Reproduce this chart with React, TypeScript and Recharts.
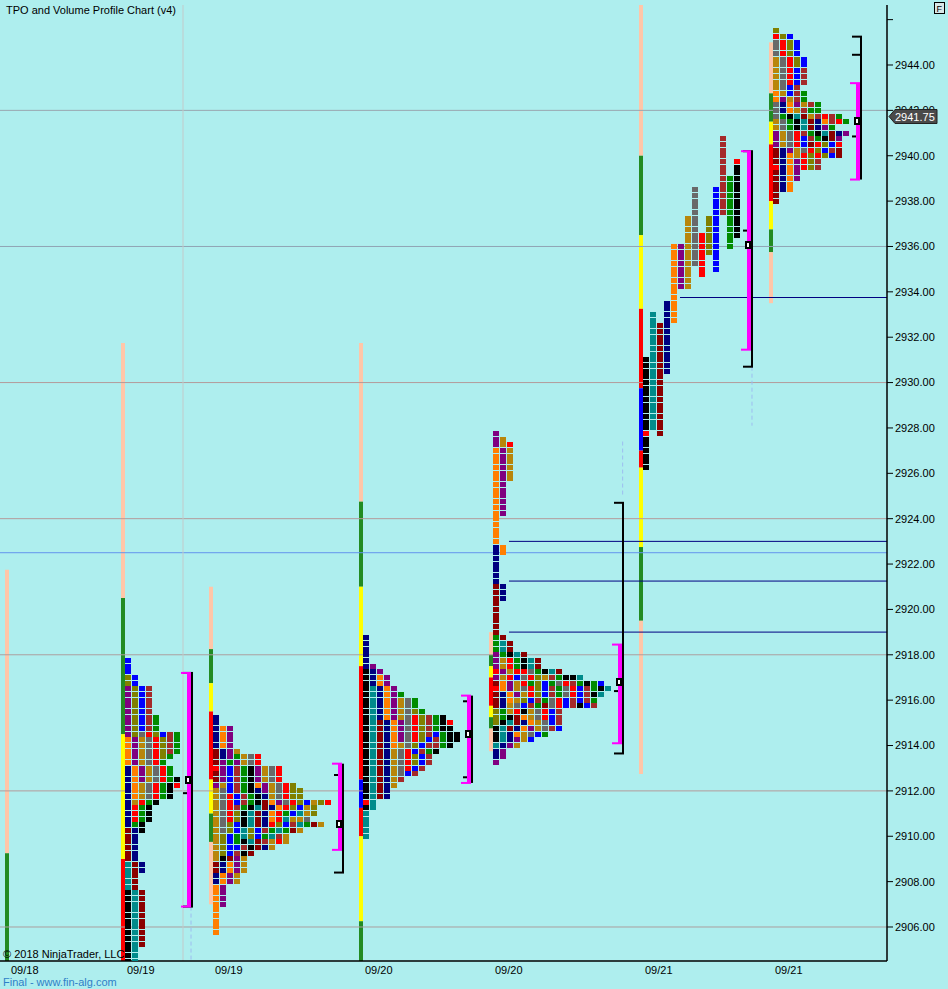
import React from 'react';
import { ComposedChart, Scatter, XAxis, YAxis, ReferenceLine, ReferenceArea } from 'recharts';

// one TPO column is 7px wide; the x axis counts columns
const PX = 7;
const px = (n: number) => n / PX;
const X_MAX = 887 / PX;
const Y_MIN = 2904.501;
const Y_MAX = 2946.645;

const sessionLabels = ['09/18', '09/19', '09/19', '09/20', '09/20', '09/21', '09/21'];
const sessionStart = [1.286, 17.857, 30.429, 51.857, 70.429, 91.857, 110.429];
const sessionEnd = [0, 26.714, 48.286, 66.714, 88.286, 106.714, 122.286];
const priceTicks = [2906, 2908, 2910, 2912, 2914, 2916, 2918, 2920, 2922, 2924, 2926, 2928, 2930, 2932, 2934, 2936, 2938, 2940, 2942, 2944, 2946];

const tpoColors: Record<string, string> = {
  N: '#000080', O: '#FF7F00', P: '#800080', D: '#B8860B', G: '#696969', R: '#FF0000', V: '#808000',
  E: '#008C00', K: '#000000', T: '#008B8B', M: '#8B0000', B: '#0000FF', W: '#A52A2A',
};
const barColors: Record<string, string> = { S: '#FFC6A8', G: '#228B22', Y: '#FFFF00', R: '#FF0000', B: '#0000FF' };

// TPO rows, top row first, 0.25 per row
const profileTop = [2917.75, 2915.25, 2918.75, 2927.75, 2940.75, 2945.5];

const p1Rows = [
  'B', 'B', 'B', 'VB', 'VB', 'PVBW', 'PVBW', 'PVBW', 'PVBW', 'PVBW', 'PVBWE', 'PVBWE', 'PVBWE', 'PVGRVBWE',
  'OPDGRVWE', 'OPDGRVWE', 'OPDGRVWE', 'OPDGRVE', 'OPDGRE', 'NOPDGRE', 'NOPDGRE', 'NOPDGREK', 'NODGREKR', 'NODGREK', 'NODGREK',
  'NDREK', 'NREK', 'NREK', 'NREK', 'NEK', 'MNK', 'MN', 'MN', 'MN', 'MN', 'MN', 'TMN', 'TMN', 'TM', 'TM', 'TM',
  'KTM', 'KTM', 'KTM', 'KTM', 'KTM', 'KTM', 'KTM', 'KTM', 'KTM', 'KTM', 'KT', 'KT', 'KT',
];

const p2Rows = [
  'N', 'N', 'NOP', 'NOP', 'NOP', 'NOP', 'MNPD', 'MNPEDGR', 'MPEPDGR',
  'RPBWEKPDGR', 'MPBWEKPDGR', 'MPBWEKPDGR', 'PDBWEKOPDGRV', 'DGBWEKNPDGRVV', 'DGRBWEKNDGRVV',
  'DGRBWEKMOPGRVBDVR', 'DGRWEKTMNORVBDV', 'DGRVKTMNOREBTDV', 'DGRVKTMNORTDDG', 'DGVBKTMNRVBWTEMD',
  'DGVBTVBWETEMD', 'DVBETVBETWD', 'DVBEKTMWDRD', 'DVBBWKMND', 'DVBWKM', 'DKMPD', 'MNOPD', 'MNOPD', 'NOPD', 'NOPD',
  'OP', 'OP', 'OP', 'OP', 'O', 'O', 'O', 'O', 'O',
];

const p3Rows = [
  'N', 'N', 'N', 'N', 'N', 'NP', 'KNP', 'KNOP', 'KNOP', 'KTNOP', 'KTNOPE', 'KTNOPDGE', 'KTNOPDGE', 'KTNOPDGVE',
  'KTNOPDGRVWEK', 'KTMNOPGRVWEKR', 'KTMNOPGRVWEKK', 'KTMNOPGRVWBEKK', 'KTMNOPGRVBWEKK', 'KTMNODGVBWWEK',
  'KTMNDGRBWEK', 'KTMNDGRVBW', 'KTMNDGRVBW', 'KTMNDGRBW', 'KTMNDGBW', 'KTMNDW', 'KTMND', 'KTMN', 'KTMN',
  'RT', 'KT', 'T', 'T', 'T', 'T', 'T',
];

const p4Rows = [
  'P', 'PD', 'PDR',
  'OPD', 'OPD', 'OPD', 'OPD', 'OPD', 'OPD',
  'OP', 'OP', 'OP', 'OP', 'OP', 'OP',
  'O', 'O', 'O', 'O', 'O',
  'NO', 'NO',
  'N', 'N', 'N', 'N', 'N',
  'MN', 'MN', 'MN',
  'M', 'M', 'M', 'M', 'M', 'M',
  'EM', 'ETM', 'ETM', 'PEKTM', 'PDREKTM', 'PDREKTM',
  'RPDRRGEKTM', 'PDRBGRVDWEKKT', 'MOPDREVBEGRWEKEB', 'ROPDGRVBWEGRBWEKT', 'MNOPDRVBWEGRBWKT',
  'MNODVBWEGRBWBWE', 'MNDGBWEMGRBWKBW', 'VEDRKDGRBW', 'VEKMODGRBW', 'VKTMNODGBW', 'KTMNOPDGWB',
  'KTNODGBE', 'KTNPDB', 'TNPD', 'NP', 'NP', 'P',
];

// 09/21 overnight profile: one column per period [column, colour, high, low]
const p5Periods: [number, string, number, number][] = [
  [0, 'K', 2931.0, 2926.25], [0, 'R', 2927.75, 2927.75],
  [1, 'T', 2933.0, 2928.0], [2, 'M', 2932.5, 2927.75], [3, 'N', 2933.5, 2930.5],
  [4, 'O', 2936.0, 2932.75], [5, 'P', 2936.0, 2934.25], [6, 'D', 2937.25, 2934.25],
  [7, 'G', 2938.5, 2935.25], [8, 'R', 2936.5, 2934.75], [9, 'V', 2937.25, 2935.75],
  [10, 'B', 2938.5, 2935.0], [11, 'W', 2940.75, 2937.5], [12, 'E', 2939.0, 2936.0],
  [13, 'R', 2939.75, 2939.75], [13, 'K', 2939.5, 2936.5],
];

const p6Rows = [
  'V', 'RVB', 'GRVB', 'GRVB', 'GRVB', 'DGRVB', 'DGRVB', 'DGRBW', 'DGRBW', 'DGRBW', 'DGBW', 'ODBWE', 'OPDWE',
  'GNOPDWE', 'GNODWEE', 'GEKTMDWRWE', 'DGEKTMNOWRE', 'DGEKTMNPE', 'PDGRWEKTMNP', 'PDGRBWEKMP', 'PDGRBMRVBR',
  'MNPDGRVBWM', 'MNODRVRVBM', 'MNOPRVW', 'RNOPRVW', 'MNOP', 'MNOP', 'MNO', 'MNO', 'M', 'M',
];

// session range bars [high, low, colour]
const sessionBars: [number, number, string][][] = [
  [[2921.75, 2909.25, 'S'], [2909.25, 2900, 'G']],
  [[2931.75, 2920.5, 'S'], [2920.5, 2914.5, 'G'], [2914.5, 2909, 'Y'], [2909, 2900, 'R']],
  [[2921, 2918.25, 'S'], [2918.25, 2916.75, 'G'], [2916.75, 2915.5, 'Y'], [2915.5, 2912.5, 'R'], [2912.5, 2911, 'Y'], [2911, 2909.75, 'G'], [2909.75, 2907, 'S']],
  [[2931.75, 2924.75, 'S'], [2924.75, 2921, 'G'], [2921, 2917.5, 'Y'], [2917.5, 2912.5, 'R'], [2912.5, 2911.25, 'B'], [2911.25, 2910, 'R'], [2910, 2906.25, 'Y'], [2906.25, 2900, 'G']],
  [[2919, 2918, 'S'], [2918, 2917.5, 'G'], [2917.5, 2917, 'Y'], [2917, 2915.75, 'R'], [2915.75, 2915.25, 'Y'], [2915.25, 2914.75, 'G'], [2914.75, 2913.75, 'S']],
  [[2946.75, 2940, 'S'], [2940, 2936.5, 'G'], [2936.5, 2933.25, 'Y'], [2933.25, 2929.75, 'R'], [2929.75, 2927, 'B'], [2927, 2926.25, 'R'], [2926.25, 2922.75, 'Y'], [2922.75, 2919.5, 'G'], [2919.5, 2912.75, 'S']],
  [[2945, 2942.75, 'S'], [2942.75, 2941.5, 'G'], [2941.5, 2940.5, 'Y'], [2940.5, 2938, 'R'], [2938, 2936.75, 'Y'], [2936.75, 2935.75, 'G'], [2935.75, 2933.5, 'S']],
];

const valueArea = [[2917.2, 2906.9], [2913.2, 2909.4], [2916.2, 2912.35], [2918.45, 2914.1], [2940.2, 2931.45], [2943.2, 2938.95]];
const rangeBracket = [[2917.2, 2906.9], [2912.7, 2908.4], [2915.95, 2912.6], [2924.7, 2913.65], [2940.2, 2930.7], [2945.25, 2940.85]];
const pocMarks = [2912.5, 2910.55, 2914.5, 2916.8, 2936.05, 2941.55];
const openTicks = [2911.9, 0, 0, 2916.4, 2936.7, 2944.45];

const levelLines: [number, string][] = [
  [2942, '#9AA6B0'], [2936, '#90A4B4'], [2930, '#B49A9A'], [2924, '#B49A9A'], [2922.5, '#6495ED'],
  [2918, '#AC9E9E'], [2912, '#B49A9A'], [2906, '#AC9E9E'],
];
const nakedLevels: [number, number][] = [[2923.0, 72.714], [2921.25, 72.714], [2919.0, 72.714], [2933.75, 97.143]];
const extensionLines: [number, number, number][] = [[27.29, 2906.9, 2904.5], [88.95, 2927.4, 2925.0], [107.43, 2930.7, 2928.1]];

const lastPrice = 2941.75;

type Cell = { x: number; y: number; c: string };

function rowsToCells(rows: string[], top: number, start: number): Cell[] {
  const out: Cell[] = [];
  rows.forEach((r, i) => {
    [...r].forEach((ch, j) => {
      if (ch !== '.') out.push({ x: start + j + px(3), y: top - i * 0.25, c: tpoColors[ch] });
    });
  });
  return out;
}

function periodsToCells(periods: [number, string, number, number][], start: number): Cell[] {
  const grid = new Map<string, Cell>();
  periods.forEach(([colIdx, ch, hi, lo]) => {
    for (let p = hi; p >= lo - 1e-6; p -= 0.25) {
      grid.set(colIdx + ':' + p.toFixed(2), { x: start + colIdx + px(3), y: p, c: tpoColors[ch] });
    }
  });
  return [...grid.values()];
}

const cells: Cell[] = [
  ...rowsToCells(p1Rows, profileTop[0], sessionStart[1]),
  ...rowsToCells(p2Rows, profileTop[1], sessionStart[2]),
  ...rowsToCells(p3Rows, profileTop[2], sessionStart[3]),
  ...rowsToCells(p4Rows, profileTop[3], sessionStart[4]),
  ...periodsToCells(p5Periods, sessionStart[5]),
  ...rowsToCells(p6Rows, profileTop[5], sessionStart[6]),
];

const markers = pocMarks.map((p, i) => ({ x: sessionEnd[i + 1] + px(2), y: p }));

const TpoBox = (props: any) => {
  const { cx, cy, payload } = props;
  if (cx == null || cy == null) return <g />;
  return <rect x={Math.round(cx - 3)} y={Math.round(cy - 2.5)} width={6} height={5} fill={payload.c} shapeRendering="crispEdges" />;
};

const PocBox = (props: any) => {
  const { cx, cy } = props;
  if (cx == null || cy == null) return <g />;
  const x = Math.round(cx - 4);
  const y = Math.round(cy - 4);
  return (
    <g shapeRendering="crispEdges">
      <rect x={x} y={y} width={8} height={8} fill="#000" />
      <rect x={x + 2} y={y + 2} width={2} height={4} fill="#fff" />
    </g>
  );
};

const DateTick = (props: any) => {
  const { x, y, payload } = props;
  const i = sessionStart.indexOf(payload.value);
  return (
    <text x={x + 2} y={y - 3} dy="0.71em" textAnchor="start" fontSize={11} fill="#000">
      {sessionLabels[i]}
    </text>
  );
};

const yPix = (p: number) => 5 + ((Y_MAX - p) / (Y_MAX - Y_MIN)) * 956;

export default function App() {
  const seg = (x1: number, x2: number, y1: number, y2: number) => [{ x: x1, y: y1 }, { x: x2, y: y2 }];
  const priceY = Math.round(yPix(lastPrice)) + 0.5;
  return (
    <div style={{ position: 'absolute', left: 0, top: 0, width: 948, height: 989, background: '#AEEEEE', fontFamily: '"Liberation Sans", Arial, sans-serif', overflow: 'hidden' }}>
      <ComposedChart width={948} height={989} margin={{ top: 5, right: 0, bottom: 0, left: 0 }}>
        <XAxis
          type="number"
          dataKey="x"
          domain={[0, X_MAX]}
          allowDataOverflow
          ticks={sessionStart.slice(0)}
          interval={0}
          tick={<DateTick />}
          tickLine={false}
          axisLine={{ stroke: '#000', strokeWidth: 1.5 }}
          height={28}
        />
        <YAxis
          type="number"
          dataKey="y"
          orientation="right"
          domain={[Y_MIN, Y_MAX]}
          allowDataOverflow
          ticks={priceTicks}
          interval={0}
          tickFormatter={(v: number) => (v === 2946 ? '' : v.toFixed(2))}
          tick={{ fill: '#000', fontSize: 11 }}
          tickLine={{ stroke: '#000' }}
          axisLine={{ stroke: '#000', strokeWidth: 1.5 }}
          width={61}
        />

        {levelLines.map(([p, c]) => (
          <ReferenceLine key={'lv' + p} y={p} stroke={c} strokeWidth={1} />
        ))}
        <ReferenceLine x={px(183)} stroke="#C2CACA" strokeWidth={1} />
        {nakedLevels.map(([p, x0]) => (
          <ReferenceLine key={'nk' + p} segment={seg(x0, X_MAX, p, p)} stroke="#000080" strokeWidth={1} ifOverflow="visible" />
        ))}
        {extensionLines.map(([x, a, b]) => (
          <ReferenceLine key={'ex' + x} segment={seg(x, x, a, b)} stroke="#9DBDF0" strokeWidth={1} strokeDasharray="4 3" ifOverflow="hidden" />
        ))}

        {sessionBars.map((bars, s) =>
          bars.map(([hi, lo, c]) => (
            <ReferenceArea
              key={'sb' + s + hi}
              x1={sessionStart[s] - px(4)}
              x2={sessionStart[s]}
              y1={lo}
              y2={hi}
              fill={barColors[c]}
              fillOpacity={1}
              stroke="none"
              ifOverflow="hidden"
            />
          ))
        )}

        {valueArea.map(([hi, lo], i) => {
          const m = sessionEnd[i + 1];
          return (
            <React.Fragment key={'va' + i}>
              <ReferenceLine segment={seg(m + px(5), m + px(5), hi, lo)} stroke="#000" strokeWidth={2} ifOverflow="visible" />
              <ReferenceLine segment={seg(m + px(5), m + px(5), rangeBracket[i][0], rangeBracket[i][1])} stroke="#000" strokeWidth={2} ifOverflow="visible" />
              <ReferenceLine segment={seg(m - px(4), m + px(6), rangeBracket[i][0], rangeBracket[i][0])} stroke="#000" strokeWidth={2} ifOverflow="visible" />
              <ReferenceLine segment={seg(m - px(4), m + px(6), rangeBracket[i][1], rangeBracket[i][1])} stroke="#000" strokeWidth={2} ifOverflow="visible" />
              {openTicks[i] > 0 && (
                <ReferenceLine segment={seg(m - px(4), m + px(4), openTicks[i], openTicks[i])} stroke="#000" strokeWidth={2} ifOverflow="visible" />
              )}
              <ReferenceLine segment={seg(m + px(2), m + px(2), hi, lo)} stroke="#FF00FF" strokeWidth={4} ifOverflow="visible" />
              <ReferenceLine segment={seg(m - px(6), m + px(4), hi, hi)} stroke="#FF00FF" strokeWidth={2} ifOverflow="visible" />
              <ReferenceLine segment={seg(m - px(6), m + px(4), lo, lo)} stroke="#FF00FF" strokeWidth={2} ifOverflow="visible" />
            </React.Fragment>
          );
        })}

        <Scatter data={cells} shape={<TpoBox />} isAnimationActive={false} />
        <Scatter data={markers} shape={<PocBox />} isAnimationActive={false} />
      </ComposedChart>

      <div style={{ position: 'absolute', left: 6, top: 4, fontSize: 11, color: '#000' }}>TPO and Volume Profile Chart (v4)</div>
      <div style={{ position: 'absolute', left: 3, top: 948, fontSize: 11, color: '#000' }}>© 2018 NinjaTrader, LLC</div>
      <div style={{ position: 'absolute', left: 3, top: 976, fontSize: 11, lineHeight: '12px', color: '#2E80C8' }}>Final - www.fin-alg.com</div>

      <svg width={948} height={989} style={{ position: 'absolute', left: 0, top: 0, pointerEvents: 'none' }}>
        <polygon
          points={`889,${priceY} 895,${priceY - 7} 937,${priceY - 7} 937,${priceY + 7} 895,${priceY + 7}`}
          fill="#4A4A4A"
          stroke="#222"
          strokeWidth={1}
        />
        <text x={895} y={priceY + 4} fontSize={11} fill="#fff" fontFamily='"Liberation Sans", Arial, sans-serif'>
          {lastPrice.toFixed(2)}
        </text>
        <rect x={934.5} y={2.5} width={10} height={11} fill="#D8E8E8" stroke="#000" strokeWidth={1} />
        <text x={936.5} y={11.5} fontSize={9} fill="#000" fontFamily='"Liberation Sans", Arial, sans-serif'>F</text>
      </svg>
    </div>
  );
}
